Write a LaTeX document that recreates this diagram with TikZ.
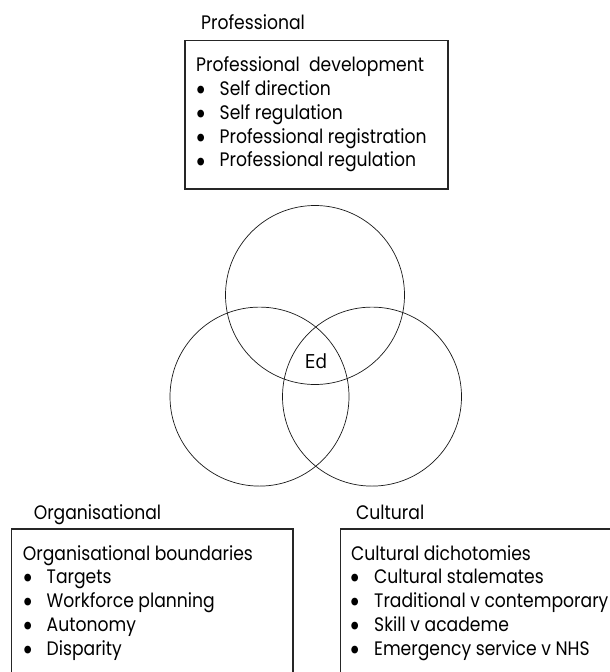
\documentclass[tikz,border=0pt]{standalone}
\usepackage{fontspec}
\setmainfont[FakeStretch=0.88]{Poppins}
\newfontfamily\edfont{Open Sans}
\newlength\refw
\newsavebox\refbox
\begin{document}
\sbox\refbox{\fontsize{10pt}{12pt}\selectfont Professional registration}%
\setlength\refw{\wd\refbox}%
\ifdim\refw<1pt \setlength\refw{120pt}\fi
\pgfmathsetmacro\fs{10*207/\refw}%
\pgfmathsetmacro\bs{1.6*\fs}%
\begin{tikzpicture}[x=1pt,y=-1pt]
\tikzset{
  txt/.style={anchor=base west, inner sep=0pt, font=\fontsize{\fs pt}{\fs pt}\selectfont},
  bul/.style={anchor=center, inner sep=0pt, font=\fontsize{\bs pt}{\bs pt}\selectfont},
  frame/.style={draw=black!85, line width=1.1pt},
  ring/.style={draw=black!90, line width=0.7pt, circle, minimum size=179pt, inner sep=0pt},
}
\useasboundingbox (0,0) rectangle (610,672);
\clip (0,0) rectangle (610,672);
\fill[white] (0,0) rectangle (610,672);

% Venn circles
\node[ring] (ctop) at (315,295) {};
\node[ring] (cleft) at (259.5,396.6) {};
\node[ring] (cright) at (372,396.6) {};
\node[inner sep=0pt, font=\edfont\fontsize{19.5pt}{19.5pt}\selectfont] (ed) at (316,361.5) {Ed};

% Top box
\node[txt] (lprof) at (201,29.5) {Professional};
\draw[frame] (185,40.7) rectangle (448,189);
\node[txt] (p0) at (196,71.7) {Professional\ \ development};
\foreach \i/\y/\t in {1/95.5/Self direction, 2/119.3/Self regulation, 3/143.1/Professional registration, 4/166.9/Professional regulation}{
  \node[bul] (pb\i) at (201.5,\y-2) {•};
  \node[txt] (p\i) at (219.5,\y) {\t};
}

% Bottom left box
\node[txt] (lorg) at (33.6,519) {Organisational};
\draw[frame] (11.7,680) -- (11.7,529) -- (293,529) -- (293,680);
\node[txt] (o0) at (22.7,560) {Organisational boundaries};
\foreach \i/\y/\t in {1/583.8/Targets, 2/607.6/Workforce planning, 3/631.4/Autonomy, 4/655.2/Disparity}{
  \node[bul] (ob\i) at (28,\y-2) {•};
  \node[txt] (o\i) at (46.5,\y) {\t};
}

% Bottom right box
\node[txt] (lcul) at (356,519) {Cultural};
\draw[frame] (340.5,680) -- (340.5,529) -- (620,529);
\node[txt] (c0) at (351,560) {Cultural dichotomies};
\foreach \i/\y/\t in {1/583.8/Cultural stalemates, 2/607.6/Traditional v contemporary, 3/631.4/Skill v academe, 4/655.2/Emergency service v NHS}{
  \node[bul] (cb\i) at (355.5,\y-2) {•};
  \node[txt] (c\i) at (374,\y) {\t};
}
\end{tikzpicture}
\end{document}
